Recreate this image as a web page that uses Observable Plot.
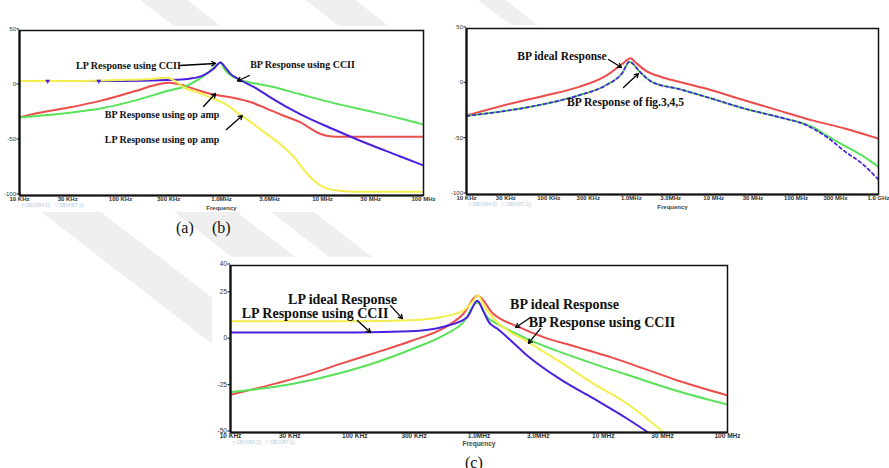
<!DOCTYPE html>
<html>
<head>
<meta charset="utf-8">
<script src="https://cdn.jsdelivr.net/npm/d3@7"></script>
<script src="https://cdn.jsdelivr.net/npm/@observablehq/plot@0.6"></script>
<style>
  html, body { margin: 0; padding: 0; background: #fff; }
  #page { position: relative; width: 889px; height: 468px; overflow: hidden; background: #fff; }
  #wm { position: absolute; left: 0; top: 0; }
  .sheet { position: absolute; background: #fff; }
  .panel { position: absolute; }
  .panel svg { display: block; }
  .cap { position: absolute; font-family: "Liberation Serif", serif; font-size: 16px; line-height: 16px; color: #111; white-space: pre; }
</style>
</head>
<body>
<div id="page">
  <!-- faint diagonal stripes of the page background -->
  <svg id="wm" width="889" height="468">
    <g fill="#efefef">
      <polygon points="140,0 187,0 226,30 179,30"/>
      <polygon points="305,0 355,0 394,30 344,30"/>
      <polygon points="478,0 505,0 544,30 517,30"/>
      <polygon points="32,205 92,205 293,360 233,360"/>
      <polygon points="165,205 228,205 299,260 236,260"/>
      <polygon points="262,205 305,205 372,257 329,257"/>
    </g>
  </svg>
  <div class="sheet" style="left:0px; top:26px; width:440px; height:186px"></div>
  <div class="sheet" style="left:440px; top:25px; width:449px; height:187px"></div>
  <div class="sheet" style="left:212px; top:257px; width:528px; height:196px"></div>
  <div class="panel" id="panelA" style="left:0px; top:0px"></div>
  <div class="panel" id="panelB" style="left:440px; top:0px"></div>
  <div class="panel" id="panelC" style="left:200px; top:250px"></div>
  <div class="cap" style="left:176px; top:220px">(a)</div>
  <div class="cap" style="left:212px; top:220px">(b)</div>
  <div class="cap" style="left:465px; top:455px">(c)</div>
</div>
<script>
// ---------- axis ticks ----------
const freqTicksA = [1e4, 3e4, 1e5, 3e5, 1e6, 3e6, 1e7, 3e7, 1e8];
const freqLabelsA = ["10 KHz", "30 KHz", "100 KHz", "300 KHz", "1.0MHz", "3.0MHz", "10 MHz", "30 MHz", "100 MHz"];
const dbTicksA = [50, 0, -50, -100];
const dbLabelsA = ["50", "0", "-50", "-100"];

const freqTicksB = [1e4, 3e4, 1e5, 3e5, 1e6, 3e6, 1e7, 3e7, 1e8, 3e8, 1e9];
const freqLabelsB = ["10 KHz", "30 KHz", "100 KHz", "300 KHz", "1.0MHz", "3.0MHz", "10 MHz", "30 MHz", "100 MHz", "300 MHz", "1.0 GHz"];
const dbTicksB = [50, 0, -50, -100];
const dbLabelsB = ["50", "0", "-50", "-100"];

const freqTicksC = [1e4, 3e4, 1e5, 3e5, 1e6, 3e6, 1e7, 3e7, 1e8];
const freqLabelsC = ["10 KHz", "30 KHz", "100 KHz", "300 KHz", "1.0MHz", "3.0MHz", "10 MHz", "30 MHz", "100 MHz"];
const dbTicksC = [40, 25, 0, -25, -50];
const dbLabelsC = ["40", "25", "0", "-25", "-50"];

// ---------- (a) op amp vs CCII responses: [frequency Hz, gain dB] ----------
const lpOpAmpA = [[1e4,4],[3e4,4],[1e5,5],[2e5,6],[2.8e5,7],[3.5e5,4],[4.2e5,-1.5],[6.2e5,-7],[8.3e5,-12],[1.1e6,-17],[1.5e6,-26],[2e6,-34],[2.8e6,-44],[4e6,-55],[5.2e6,-65],[7e6,-80],[8.9e6,-89],[1.1e7,-93.5],[1.4e7,-95.5],[2e7,-96.5],[1e8,-96.5]];
const bpOpAmpA = [[1e4,-29],[1.4e4,-25.7],[3e4,-20.3],[6.3e4,-14],[1.35e5,-5.5],[2.5e5,1.5],[3e5,2.4],[3.6e5,1.5],[4.6e5,-1],[6.2e5,-5],[8.3e5,-8.2],[1.3e6,-11.2],[2e6,-15.5],[2.8e6,-21],[4e6,-27],[6e6,-33.3],[8.9e6,-42.7],[1.1e7,-45.7],[1.4e7,-46.5],[1e8,-46.5]];
const bpCciiA = [[1e4,-29],[3e4,-25],[6.3e4,-21],[1.35e5,-14],[2.9e5,-5],[4.6e5,0],[7.2e5,11],[9.4e5,20],[9.8e5,21],[1.05e6,16],[1.2e6,10],[1.32e6,7.6],[2.25e6,1.5],[2.8e6,0],[6e6,-8],[1.3e7,-16],[2.8e7,-23],[5.9e7,-30],[1e8,-35.5]];
const lpCciiA = [[1e4,4],[3e4,4],[1e5,4],[2.9e5,5],[4.6e5,6],[6.5e5,9],[8.3e5,15],[9.8e5,21],[1.1e6,16],[1.23e6,10.6],[1.54e6,5],[2.25e6,-3],[3.07e6,-11],[6e6,-26],[1.3e7,-40],[2.8e7,-53],[5.9e7,-64.5],[1e8,-72.7]];
// trace markers on the low-pass CCII curve
const lpCciiMarksA = [[1.9e4,4],[6.1e4,4]];

// ---------- (b) ideal band-pass vs circuits of fig. 3, 4, 5 ----------
const bpIdealB = [[1e4,-28.6],[1.4e4,-25.6],[3.6e4,-17.5],[9.1e4,-10.5],[2.28e5,-3],[4.85e5,6.9],[7.8e5,18],[9.8e5,23.2],[1.1e6,20],[1.49e6,12],[2.37e6,6],[3.7e6,2.1],[9.6e6,-6],[2.4e7,-15],[6.1e7,-24],[1.58e8,-33],[4e8,-40.6],[1e9,-49.6]];
const bpFigGreenB = [[1e4,-29],[3.6e4,-23.5],[9.1e4,-18],[2.28e5,-10.5],[4.85e5,-1.5],[7.8e5,10],[9.5e5,20],[1.05e6,18],[1.23e6,12],[1.8e6,1.5],[3.7e6,-4.5],[9.6e6,-13.5],[2.4e7,-22.5],[6.1e7,-30],[1.58e8,-39],[2.5e8,-48],[4e8,-56.5],[6.3e8,-64.7],[1e9,-75]];
const bpFigBlueB = [[1e4,-29],[3.6e4,-23.5],[9.1e4,-18],[2.28e5,-10.5],[4.85e5,-1.5],[7.8e5,10],[9.5e5,20],[1.05e6,18],[1.23e6,12],[1.8e6,1.5],[3.7e6,-4.5],[9.6e6,-13.5],[2.4e7,-22.5],[6.1e7,-30],[1.3e8,-37],[2.5e8,-49.5],[4e8,-61.7],[6.3e8,-72],[1e9,-86.7]];

// ---------- (c) ideal vs CCII, low-pass and band-pass ----------
const lpIdealC = [[1e4,10],[1e5,10],[2.8e5,10.5],[5.18e5,12.5],[7.5e5,15.7],[9e5,21],[9.8e5,24],[1.09e6,18.5],[1.4e6,9.5],[2.44e6,-0.9],[4.53e6,-12.1],[8.4e6,-23.8],[1.56e7,-34.5],[3.07e7,-50]];
const lpCciiC = [[1e4,3.9],[1e5,3.9],[2.8e5,4.5],[5.18e5,7],[8e5,12],[9.7e5,21],[1.09e6,15],[1.2e6,9.5],[1.4e6,6],[1.8e6,-0.4],[2.44e6,-8.5],[4.53e6,-21.4],[8.4e6,-31.8],[1.56e7,-42.6],[2.3e7,-50]];
const bpIdealC = [[1e4,-29.7],[2.37e4,-23.4],[4.4e4,-18.4],[8.1e4,-12.5],[1.52e5,-6.7],[2.8e5,-0.8],[5.18e5,6.2],[7.5e5,14],[9.7e5,23.8],[1.3e6,14],[2.1e6,6.8],[3.3e6,1.4],[6.2e6,-4],[1.15e7,-9.4],[2.15e7,-15.7],[4.2e7,-22.5],[1e8,-30]];
const bpCciiC = [[1e4,-28.2],[1.28e4,-27.5],[3.2e4,-23.7],[8.1e4,-17.5],[1.52e5,-12],[2.8e5,-5.4],[5.18e5,2.3],[7.5e5,9.5],[9.7e5,20],[1.17e6,12],[1.4e6,8.6],[2.44e6,0.5],[4.53e6,-6.7],[8.4e6,-13],[1.56e7,-18.9],[4.2e7,-28.2],[1e8,-35]];

// ---------- annotations (anchored in frequency / dB) ----------
const notesA = [
  {f: 1.2e5, db: 17.7, text: "LP Response using CCII"},
  {f: 6.34e6, db: 19, text: "BP Response using CCII"},
  {f: 2.58e5, db: -26.4, text: "BP Response using op amp"},
  {f: 2.58e5, db: -49.1, text: "LP Response using op amp"}
];
const pointersA = [
  {f1: 3.84e5, db1: 18.2, f2: 8.73e5, db2: 20},
  {f1: 1.89e6, db1: 9.1, f2: 1.44e6, db2: 4.1},
  {f1: 6.64e5, db1: -19.1, f2: 8.73e5, db2: -7.3},
  {f1: 1.12e6, db1: -40, f2: 1.61e6, db2: -27.3}
];
const notesB = [
  {f: 1.44e5, db: 25, text: "BP ideal Response"},
  {f: 8.51e5, db: -16.6, text: "BP Response of fig.3,4,5"}
];
const pointersB = [
  {f1: 5.29e5, db1: 22, f2: 7.6e5, db2: 14.8},
  {f1: 8.04e5, db1: -3.3, f2: 1.22e6, db2: 9.3}
];
const notesC = [
  {f: 7.97e4, db: 21.7, text: "LP ideal Response"},
  {f: 4.79e4, db: 14.1, text: "LP Response using CCII"},
  {f: 4.88e6, db: 19, text: "BP ideal Response"},
  {f: 9.77e6, db: 9.5, text: "BP Response using CCII"}
];
const pointersC = [
  {f1: 1.94e5, db1: 18.4, f2: 2.42e5, db2: 11.4},
  {f1: 1.05e5, db1: 10.4, f2: 1.34e5, db2: 3.9},
  {f1: 2.6e6, db1: 12, f2: 1.97e6, db2: 6.6},
  {f1: 3.13e6, db1: 6.1, f2: 2.5e6, db2: -2}
];

const traceLegendA = "\u25C7 DB(V(R4:2))   \u25BD DB(V(R7:1))";
const traceLegendB = "\u25C7 DB(V(R4:2))   \u25BD DB(V(R7:2))";
const traceLegendC = "\u25C7 DB(V(R4:2))   \u25BD DB(V(R7:1))";

const RED = "#ee4b4b", GREEN = "#58e258", BLUE = "#4a20de", YELLOW = "#f2ee4e";

function drawPanel(cfg) {
  const xLab = new Map(cfg.xTicks.map((t, i) => [t, cfg.xLabels[i]]));
  const yLab = new Map(cfg.yTicks.map((t, i) => [t, cfg.yLabels[i]]));
  const lines = cfg.series.map(s =>
    Plot.line(s.data, {x: d => d[0], y: d => d[1], stroke: s.color, strokeWidth: s.width || 2,
      strokeDasharray: s.dash, curve: "monotone-x", clip: true})
  );
  const marks = (cfg.marks || []).map(m =>
    Plot.dot(m.data, {x: d => d[0], y: d => d[1], symbol: "triangle", rotate: 180, r: 1.5,
      fill: m.color, stroke: m.color, strokeWidth: 0.5})
  );
  return Plot.plot({
    width: cfg.width, height: cfg.height,
    marginLeft: cfg.m[0], marginRight: cfg.m[1], marginTop: cfg.m[2], marginBottom: cfg.m[3],
    x: {type: "log", domain: cfg.xDomain, axis: null},
    y: {domain: cfg.yDomain},
    style: {background: "transparent", fontFamily: "'Liberation Sans', Arial, sans-serif", color: "#222"},
    marks: [
      ...lines,
      ...marks,
      Plot.frame({stroke: "#111", strokeWidth: 1.5}),
      Plot.ruleX([cfg.xDomain[0]], {stroke: "#111", strokeWidth: 2.2}),
      Plot.ruleY([cfg.yDomain[0]], {stroke: "#111", strokeWidth: 2.2}),
      // frequency tick labels under the frame
      Plot.text(cfg.xTicks, {x: d => d, text: d => xLab.get(d), frameAnchor: "bottom", dy: 5.5,
        fontSize: cfg.tickFont, fontWeight: "bold", fill: "#333"}),
      Plot.axisY(cfg.yTicks, {tickFormat: d => yLab.get(d), tickSize: 2.5, tickPadding: 1, dy: -1.5,
        fontSize: cfg.tickFont, fill: "#333", stroke: "#111"}),
      Plot.text(["Frequency"], {frameAnchor: "bottom", dy: cfg.freqDy, fontSize: cfg.tickFont,
        fontWeight: "bold", fill: "#444"}),
      Plot.text([cfg.legend], {frameAnchor: "bottom-left", textAnchor: "start", dx: 1, dy: cfg.legendDy,
        fontSize: 4.5, fill: "#b3c7dc"}),
      Plot.arrow(cfg.pointers, {x1: "f1", y1: "db1", x2: "f2", y2: "db2", stroke: "#000",
        strokeWidth: 1.3, headLength: 5}),
      Plot.text(cfg.notes, {x: "f", y: "db", text: "text", fontFamily: "'Liberation Serif', 'Times New Roman', serif",
        fontWeight: "bold", fontSize: cfg.noteFont, fill: "#111"})
    ]
  });
}

document.getElementById("panelA").append(drawPanel({
  width: 440, height: 215, m: [19, 17, 30, 20],
  xDomain: [1e4, 1e8], yDomain: [-100, 50],
  xTicks: freqTicksA, xLabels: freqLabelsA, yTicks: dbTicksA, yLabels: dbLabelsA,
  series: [
    {data: bpOpAmpA, color: RED},
    {data: bpCciiA, color: GREEN},
    {data: lpCciiA, color: BLUE},
    {data: lpOpAmpA, color: YELLOW}
  ],
  marks: [{data: lpCciiMarksA, color: BLUE}],
  notes: notesA, pointers: pointersA, noteFont: 10, tickFont: 6,
  freqDy: 14.5, legend: traceLegendA, legendDy: 11
}));

document.getElementById("panelB").append(drawPanel({
  width: 449, height: 215, m: [26, 11, 28, 21],
  xDomain: [1e4, 1e9], yDomain: [-100, 50],
  xTicks: freqTicksB, xLabels: freqLabelsB, yTicks: dbTicksB, yLabels: dbLabelsB,
  series: [
    {data: bpIdealB, color: RED},
    {data: bpFigGreenB, color: GREEN},
    {data: bpFigBlueB, color: BLUE, dash: "3,3", width: 1.7}
  ],
  notes: notesB, pointers: pointersB, noteFont: 11.5, tickFont: 6,
  freqDy: 14.5, legend: traceLegendB, legendDy: 11
}));

document.getElementById("panelC").append(drawPanel({
  width: 540, height: 200, m: [30, 13, 15, 18],
  xDomain: [1e4, 1e8], yDomain: [-50, 40],
  xTicks: freqTicksC, xLabels: freqLabelsC, yTicks: dbTicksC, yLabels: dbLabelsC,
  series: [
    {data: bpIdealC, color: RED},
    {data: bpCciiC, color: GREEN},
    {data: lpIdealC, color: YELLOW},
    {data: lpCciiC, color: BLUE}
  ],
  notes: notesC, pointers: pointersC, noteFont: 14, tickFont: 6.5,
  freqDy: 13.5, legend: traceLegendC, legendDy: 11
}));
</script>
</body>
</html>
